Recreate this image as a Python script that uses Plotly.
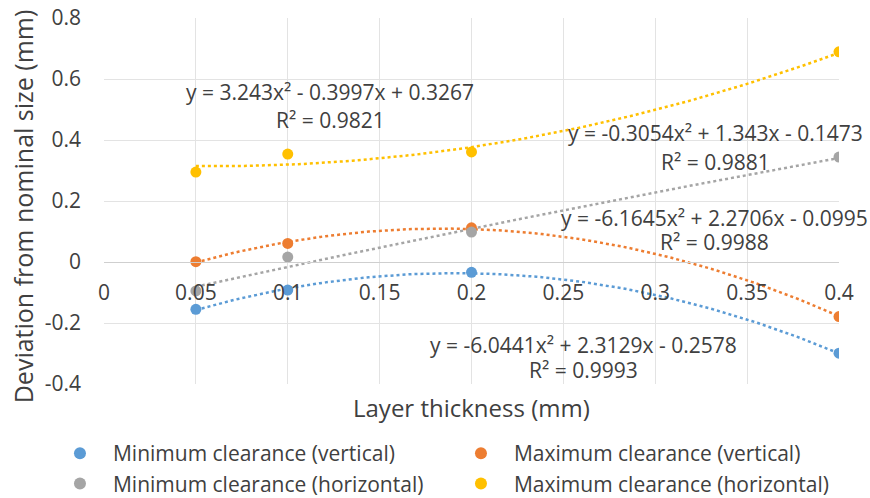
import numpy as np
import plotly.graph_objects as go

# Layer thickness settings (mm)
layer_thickness = [0.05, 0.1, 0.2, 0.4]

# Deviation from nominal size (mm)
min_clear_vertical = [-0.155, -0.092, -0.034, -0.299]
max_clear_vertical = [0.001, 0.061, 0.112, -0.179]
min_clear_horizontal = [-0.095, 0.016, 0.098, 0.344]
max_clear_horizontal = [0.295, 0.354, 0.361, 0.689]

# Quadratic trendline coefficients (a, b, c) for y = a x^2 + b x + c
coef_min_vertical = (-6.0441, 2.3129, -0.2578)
coef_max_vertical = (-6.1645, 2.2706, -0.0995)
coef_min_horizontal = (-0.3054, 1.343, -0.1473)
coef_max_horizontal = (3.243, -0.3997, 0.3267)

r2_min_vertical = 0.9993
r2_max_vertical = 0.9988
r2_min_horizontal = 0.9881
r2_max_horizontal = 0.9821

series_names = [
    "Minimum clearance (vertical)",
    "Maximum clearance (vertical)",
    "Minimum clearance (horizontal)",
    "Maximum clearance (horizontal)",
]

x_tick_vals = [0, 0.05, 0.1, 0.15, 0.2, 0.25, 0.3, 0.35, 0.4]
x_tick_text = ["0", "0.05", "0.1", "0.15", "0.2", "0.25", "0.3", "0.35", "0.4"]
y_tick_vals = [-0.4, -0.2, 0, 0.2, 0.4, 0.6, 0.8]
y_tick_text = ["-0.4", "-0.2", "0", "0.2", "0.4", "0.6", "0.8"]

colors = ["#5B9BD5", "#ED7D31", "#A5A5A5", "#FFC000"]
FONT = "Open Sans"
TEXT = "#404040"

series = [
    (series_names[0], min_clear_vertical, coef_min_vertical, r2_min_vertical),
    (series_names[1], max_clear_vertical, coef_max_vertical, r2_max_vertical),
    (series_names[2], min_clear_horizontal, coef_min_horizontal, r2_min_horizontal),
    (series_names[3], max_clear_horizontal, coef_max_horizontal, r2_max_horizontal),
]

fig = go.Figure()

# Dotted quadratic trendlines
x_fit = np.linspace(min(layer_thickness), max(layer_thickness), 120)
for (name, vals, coef, r2), col in zip(series, colors):
    a, b, c = coef
    fig.add_trace(go.Scatter(
        x=x_fit, y=a * x_fit ** 2 + b * x_fit + c,
        mode="lines", line=dict(color=col, width=2.5, dash="dot"),
        showlegend=False, hoverinfo="skip",
    ))

# Measured points
for (name, vals, coef, r2), col in zip(series, colors):
    fig.add_trace(go.Scatter(
        x=layer_thickness, y=vals, mode="markers", name=name,
        marker=dict(color=col, size=11),
    ))


def fmt_eq(coef):
    a, b, c = coef
    s = f"y = {a:g}x² "
    s += ("+ " if b >= 0 else "- ") + f"{abs(b):g}x "
    s += ("+ " if c >= 0 else "- ") + f"{abs(c):g}"
    return s


# Equation label positions (data coords): (x, y_eq, y_r2)
label_pos = {
    series_names[0]: (0.261, -0.272, -0.354),
    series_names[1]: (0.332, 0.144, 0.066),
    series_names[2]: (0.333, 0.423, 0.328),
    series_names[3]: (0.123, 0.557, 0.466),
}
for name, vals, coef, r2 in series:
    lx, ly1, ly2 = label_pos[name]
    fig.add_annotation(x=lx, y=ly1, text=fmt_eq(coef), showarrow=False,
                       xanchor="center", yanchor="middle",
                       font=dict(family=FONT, size=21, color=TEXT))
    fig.add_annotation(x=lx, y=ly2, text=f"R² = {r2:g}", showarrow=False,
                       xanchor="center", yanchor="middle",
                       font=dict(family=FONT, size=21, color=TEXT))

# Axis titles placed as text in the margins
fig.add_annotation(x=0.5, y=-0.063, xref="paper", yref="paper",
                   text="Layer thickness (mm)", showarrow=False,
                   xanchor="center", yanchor="middle",
                   font=dict(family=FONT, size=24, color=TEXT))
fig.add_annotation(x=-0.110, y=0.486, xref="paper", yref="paper",
                   text="Deviation from nominal size (mm)", showarrow=False,
                   textangle=-90, xanchor="center", yanchor="middle",
                   font=dict(family=FONT, size=25, color=TEXT))

fig.update_layout(
    width=870, height=498,
    margin=dict(l=104, r=31, t=18, b=114, autoexpand=False),
    paper_bgcolor="white", plot_bgcolor="white",
    font=dict(family=FONT, color=TEXT),
    xaxis=dict(
        range=[0, 0.4], tickvals=x_tick_vals, ticktext=x_tick_text,
        showgrid=True, gridcolor="#E3E3E3", gridwidth=1,
        zeroline=False, showline=True, linecolor="#CFCFCF", linewidth=1,
        anchor="free", position=1 / 3,
        ticks="", ticklabelstandoff=12,
        tickfont=dict(family=FONT, size=21, color=TEXT),
        automargin=False,
    ),
    yaxis=dict(
        range=[-0.4, 0.8], tickvals=y_tick_vals, ticktext=y_tick_text,
        showgrid=True, gridcolor="#E3E3E3", gridwidth=1,
        zeroline=False, showline=False,
        ticks="", ticklabelstandoff=22,
        tickfont=dict(family=FONT, size=21, color=TEXT),
        automargin=False,
    ),
    legend=dict(
        orientation="h", x=-0.0776, y=-0.134, xanchor="left", yanchor="top",
        itemwidth=56, entrywidth=330, entrywidthmode="pixels",
        itemsizing="constant",
        font=dict(family=FONT, size=21, color=TEXT), bgcolor="rgba(0,0,0,0)",
    ),
)

fig.write_html("out.html")
